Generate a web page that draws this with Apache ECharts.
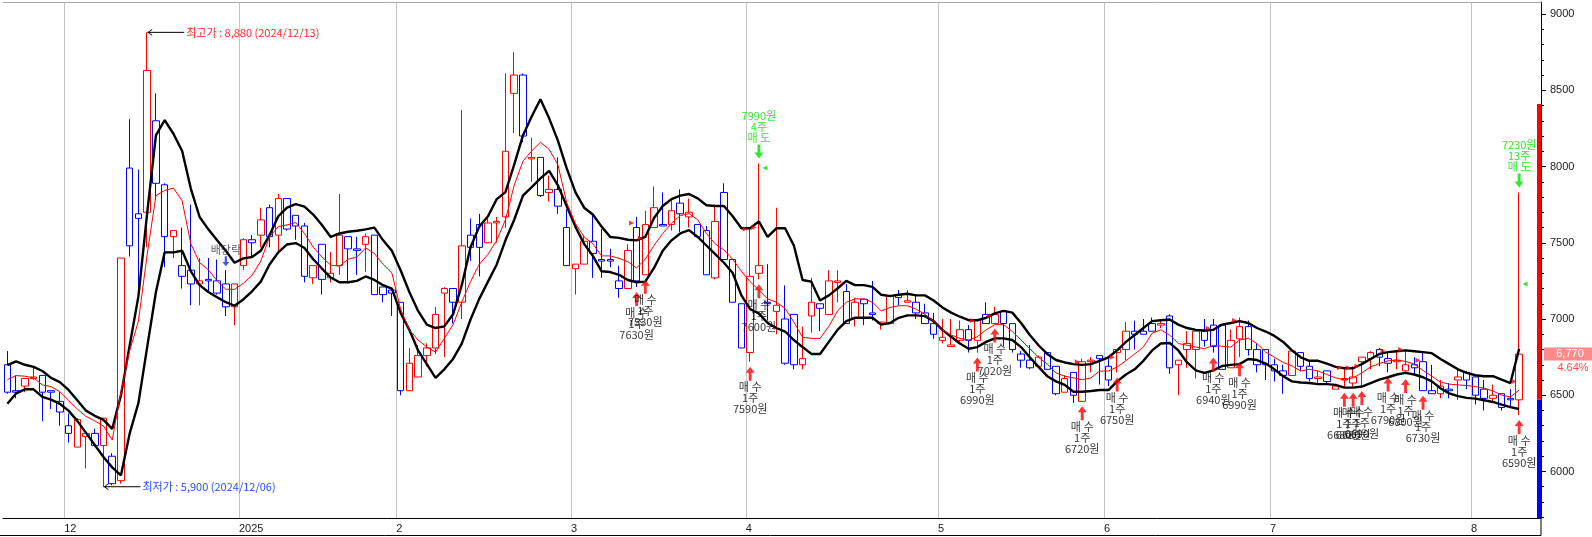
<!DOCTYPE html>
<html><head><meta charset="utf-8">
<script src="https://cdn.jsdelivr.net/npm/echarts@6/dist/echarts.min.js"></script>
<style>html,body{margin:0;padding:0;background:#fff;overflow:hidden}#c{width:1592px;height:537px}</style>
</head><body><div id="c"></div>
<script>
// ---------------- data ----------------
const dates = [
'2024-11-21','2024-11-22','2024-11-25','2024-11-26','2024-11-27','2024-11-28','2024-11-29',
'2024-12-02','2024-12-03','2024-12-04','2024-12-05','2024-12-06','2024-12-09','2024-12-10','2024-12-11','2024-12-12','2024-12-13','2024-12-16','2024-12-17','2024-12-18','2024-12-19','2024-12-20','2024-12-23','2024-12-24','2024-12-26','2024-12-27','2024-12-30',
'2025-01-02','2025-01-03','2025-01-06','2025-01-07','2025-01-08','2025-01-09','2025-01-10','2025-01-13','2025-01-14','2025-01-15','2025-01-16','2025-01-17','2025-01-20','2025-01-21','2025-01-22','2025-01-23','2025-01-24','2025-01-31',
'2025-02-03','2025-02-04','2025-02-05','2025-02-06','2025-02-07','2025-02-10','2025-02-11','2025-02-12','2025-02-13','2025-02-14','2025-02-17','2025-02-18','2025-02-19','2025-02-20','2025-02-21','2025-02-24','2025-02-25','2025-02-26','2025-02-27','2025-02-28',
'2025-03-04','2025-03-05','2025-03-06','2025-03-07','2025-03-10','2025-03-11','2025-03-12','2025-03-13','2025-03-14','2025-03-17','2025-03-18','2025-03-19','2025-03-20','2025-03-21','2025-03-24','2025-03-25','2025-03-26','2025-03-27','2025-03-28','2025-03-31',
'2025-04-01','2025-04-02','2025-04-03','2025-04-04','2025-04-07','2025-04-08','2025-04-09','2025-04-10','2025-04-11','2025-04-14','2025-04-15','2025-04-16','2025-04-17','2025-04-18','2025-04-21','2025-04-22','2025-04-23','2025-04-24','2025-04-25','2025-04-28','2025-04-29','2025-04-30',
'2025-05-02','2025-05-07','2025-05-08','2025-05-09','2025-05-12','2025-05-13','2025-05-14','2025-05-15','2025-05-16','2025-05-19','2025-05-20','2025-05-21','2025-05-22','2025-05-23','2025-05-26','2025-05-27','2025-05-28','2025-05-29','2025-05-30',
'2025-06-02','2025-06-04','2025-06-05','2025-06-09','2025-06-10','2025-06-11','2025-06-12','2025-06-13','2025-06-16','2025-06-17','2025-06-18','2025-06-19','2025-06-20','2025-06-23','2025-06-24','2025-06-25','2025-06-26','2025-06-27','2025-06-30',
'2025-07-01','2025-07-02','2025-07-03','2025-07-04','2025-07-07','2025-07-08','2025-07-09','2025-07-10','2025-07-11','2025-07-14','2025-07-15','2025-07-16','2025-07-17','2025-07-18','2025-07-21','2025-07-22','2025-07-23','2025-07-24','2025-07-25','2025-07-28','2025-07-29','2025-07-30','2025-07-31',
'2025-08-01','2025-08-04','2025-08-05','2025-08-06','2025-08-07','2025-08-08'];
const padDates = ['2025-08-11','2025-08-12'];

const opens = [6700,6530,6560,6610,6630,6530,6460,6300,6160,6230,
6250,6170,6100,5940,7990,7690,7700,8300,7880,7540,
7350,7320,7230,7260,7250,7230,7080,7350,7520,7550,
7730,7550,7790,7680,7610,7270,7490,7270,7350,7540,
7460,7490,7550,7210,7190,7110,6530,6620,6760,6810,
7170,7200,7110,7550,7620,7500,7630,7670,8480,8600,
8050,8060,7830,7850,7600,7330,7360,7510,7390,7390,
7250,7200,7600,7290,7600,7620,7620,7760,7670,7620,
7580,7270,7830,7390,7100,6780,7300,7110,7050,7000,
7030,6700,7020,7100,7030,7240,7180,7010,7130,7040,
6970,6970,7160,7110,7110,7040,6970,6860,6820,6860,
6930,6860,7030,6970,7050,6970,6770,6730,6690,6780,
6690,6520,6650,6460,6720,6760,6690,6780,6800,6920,
6920,6970,6960,7020,6700,6800,6800,6920,6960,6960,
6680,6870,6950,6800,6800,6700,6660,6630,6780,6690,
6610,6660,6540,6600,6580,6720,6740,6800,6740,6720,
6660,6700,6720,6530,6510,6540,6600,6650,6620,6540,
6480,6510,6480,6470];
const closes = [6520,6520,6610,6620,6520,6520,6390,6250,6340,6250,
6170,6350,5920,7400,7480,7660,8630,7890,7540,7580,
7280,7230,7250,7250,7170,7080,7230,7520,7500,7650,
7540,7790,7590,7610,7280,7350,7260,7300,7550,7460,
7450,7540,7160,7160,7170,6530,6710,6760,6810,7030,
7200,7110,7480,7470,7470,7630,7640,8100,8600,8200,
8060,7810,7850,7740,7350,7360,7510,7430,7380,7380,
7200,7450,7250,7620,7730,7610,7710,7690,7700,7540,
7290,7640,7390,7110,6810,7280,7350,7100,7090,6710,
6700,6740,7110,7070,7250,7250,6970,7110,7100,7030,
6980,7150,7140,7120,7040,6970,6900,6880,6830,6930,
6860,6990,6970,7030,6970,6800,6730,6680,6750,6670,
6510,6610,6500,6720,6730,6740,6600,6800,6920,6900,
6900,6920,6970,6680,6730,6840,6920,6860,6820,6670,
6860,6950,6800,6700,6700,6660,6630,6790,6690,6610,
6620,6590,6560,6610,6620,6750,6780,6750,6710,6730,
6700,6680,6530,6510,6560,6530,6620,6600,6500,6480,
6500,6420,6470,6770];
const lows = [6510,6480,6520,6600,6330,6410,6300,6190,6160,6020,
6170,5900,5910,5920,7410,7160,7470,7780,7340,7400,
7200,7090,7090,7180,7160,7020,6960,7320,7410,7470,
7470,7440,7580,7520,7240,7230,7160,7240,7290,7250,
7290,7310,7160,7110,7020,6500,6530,6620,6690,6770,
6750,6970,7000,7380,7280,7500,7500,7600,8220,8160,
7900,7800,7770,7690,7350,7160,7360,7270,7270,7340,
7140,7200,7210,7290,7600,7610,7580,7570,7600,7540,
7290,7260,7390,7110,6810,6720,7260,6990,6900,6700,
6670,6670,6910,6920,7030,7110,6970,6950,6960,6990,
6930,6970,7090,7110,7000,6970,6870,6840,6820,6840,
6780,6780,6970,6970,6820,6780,6680,6670,6690,6670,
6500,6520,6450,6460,6650,6570,6560,6650,6730,6800,
6900,6920,6940,6640,6500,6680,6610,6820,6780,6670,
6680,6750,6760,6650,6600,6590,6510,6630,6660,6590,
6570,6570,6540,6550,6550,6560,6670,6690,6650,6670,
6640,6640,6530,6510,6480,6480,6470,6540,6440,6400,
6460,6400,6430,6370];
const highs = [6790,6630,6610,6690,6630,6530,6520,6380,6350,6250,
6280,6350,6120,7400,8310,7980,8880,8480,7890,7580,
7600,7750,7400,7400,7390,7320,7230,7530,7550,7730,
7750,7820,7790,7680,7630,7350,7490,7440,7820,7540,
7540,7560,7550,7210,7190,7110,6810,6830,6840,7080,
7210,7200,8370,7660,7690,7670,7670,8610,8750,8610,
8190,8060,7940,8060,7720,7360,7550,7680,7590,7460,
7350,7490,7670,7710,7870,7830,7780,7850,7790,7620,
7610,7750,7890,7390,7100,7600,8020,7360,7730,7220,
7030,6950,7270,7100,7320,7320,7230,7140,7130,7250,
6980,7160,7190,7190,7160,7100,7040,7000,7000,6990,
6960,7000,7110,7080,7050,6970,6790,6830,6760,6780,
6690,6630,6650,6740,6750,6760,6740,6800,6980,6990,
7000,7010,6990,7030,6730,6920,6920,7000,7000,6960,
6930,7010,6990,6840,6800,6740,6700,6800,6780,6730,
6660,6660,6570,6680,6690,6750,6790,6810,6780,6790,
6800,6750,6780,6700,6600,6580,6670,6660,6620,6600,
6570,6510,6540,7830];

const upperBand = [6697,6722,6700,6686,6659,6614,6586,6535,6467,6399,6365,6338,6280,
6501,6828,7150,7696,8204,8305,8215,8102,7854,7669,7588,7516,7448,7369,7398,7407,7448,7550,7674,7730,7753,7737,7685,7617,7538,7561,7572,7579,7588,7599,7516,7448,7320,
7177,7053,6963,6941,6952,7031,7222,7471,7606,7674,7786,7832,8012,8204,8328,8441,8316,8170,7989,7832,7730,7685,7606,7538,7532,7520,7516,7538,7662,7741,7786,7809,7820,7791,7746,7741,7741,7674,7595,7595,7640,7538,7595,
7595,7482,7256,7245,7121,7155,7200,7250,7222,7222,7211,7159,7150,7159,7166,7155,7155,7121,7076,7042,7015,6992,6992,7008,7037,7053,7042,6974,6895,6828,6771,6731,6715,6704,6699,6704,6726,6749,6794,6850,6895,6941,6986,
6992,6997,6963,6941,6929,6925,6929,6963,6974,6986,6974,6941,6918,6889,6850,6794,6749,6726,6726,6708,6686,6677,6677,6704,6738,6771,6783,6789,6794,6789,6783,6776,6738,6704,6670,6647,6631,6625,6625,6602,6580,6805];
const middleLine = [6602,6629,6625,6614,6568,6557,6523,6467,6410,6361,6332,6298,6207,
6523,6794,6986,7425,7809,7843,7859,7775,7493,7369,7324,7250,7195,7195,7234,7286,7380,7538,7606,7617,7633,7561,7471,7407,7353,7347,7392,7407,7466,7430,7358,7302,7065,
6929,6862,6816,6783,6873,6963,7110,7245,7358,7425,7516,7651,7877,8035,8102,8159,8113,8012,7764,7628,7538,7493,7414,7414,7398,7376,7335,7392,7482,7561,7628,7678,7692,7651,7561,7493,7453,7392,7313,7245,7189,7132,7110,
7070,6980,6880,6873,6873,6952,7053,7110,7132,7132,7110,7053,7076,7087,7087,7065,7031,6986,6929,6895,6873,6862,6884,6929,6963,6963,6918,6862,6805,6749,6704,6647,6625,6614,6602,6614,6659,6659,6686,6726,6771,6816,6907,
6929,6895,6839,6828,6816,6805,6828,6821,6816,6862,6873,6839,6783,6749,6715,6693,6659,6670,6659,6636,6614,6602,6614,6647,6686,6708,6726,6731,6722,6704,6663,6625,6586,6573,6568,6564,6557,6546,6528,6501,6489,6534];
const lowerBand = [6444,6512,6539,6539,6489,6471,6444,6399,6332,6253,6174,6095,6027,
5975,6250,6450,6816,7177,7437,7437,7448,7313,7222,7177,7143,7110,7087,7128,7182,7245,7358,7437,7489,7498,7466,7392,7331,7272,7241,7241,7250,7279,7256,7222,7200,7040,
6929,6794,6704,6614,6670,6738,6839,6997,7132,7245,7358,7516,7651,7809,7865,7922,7971,7877,7741,7606,7493,7414,7313,7308,7290,7256,7241,7245,7335,7448,7516,7561,7583,7538,7482,7425,7369,7302,7155,7065,7037,6974,6941,
6918,6862,6816,6771,6771,6850,6929,6986,7008,7008,7008,6963,6974,7008,7024,7024,7019,6986,6929,6884,6839,6805,6816,6850,6873,6873,6862,6816,6749,6686,6625,6591,6568,6523,6523,6528,6534,6534,6591,6636,6670,6726,6794,
6839,6843,6794,6715,6663,6647,6663,6692,6699,6704,6738,6731,6708,6670,6625,6591,6584,6580,6573,6573,6568,6550,6550,6557,6580,6602,6618,6636,6647,6636,6618,6591,6546,6512,6494,6483,6478,6467,6456,6438,6422,6410];

const buyIdx   = [72,73,85,86,111,113,123,127,138,141,153,154,155,158,160,162,173];
const buyPrice = [7630,7530,7590,7600,6990,7020,6720,6750,6940,6990,6680,6680,6690,6790,6800,6730,6590];
const buyQty   = ['1주','1주','1주','1주','1주','1주','1주','1주','1주','1주','1주','1주','1주','1주','1주','1주','1주'];
const sellIdx   = [86,173];
const sellPrice = [7990,7230];
const sellQty   = ['4주','13주'];
const dividendIdx = 25;
const highIdx = 16, highValue = 8880, highText = '최고가 : 8,880 (2024/12/13)';
const lowIdx = 11,  lowValue = 5900,  lowText = '최저가 : 5,900 (2024/12/06)';
const prevClose = 6470, upperLimit = 8410, lowerLimit = 4530;
const lastPriceText = '6,770', changeText = '4.64%';
const yMajorTicks = [6000,6500,7000,7500,8000,8500,9000];
const yMinorTicks = [5700,5800,5900,6100,6200,6300,6400,6600,6700,6800,6900,7100,7200,7300,7400,7600,7700,7800,7900,8100,8200,8300,8400,8600,8700,8800,8900,9000];
const yMin = 5695, yMax = 9079;

// ---------------- chart ----------------
const KR = "'Noto Sans CJK KR', 'Liberation Sans', sans-serif";
const chart = echarts.init(document.getElementById('c'), null, {renderer: 'canvas'});
const N = dates.length;
const cats = dates.concat(padDates);
const monthStart = new Set();
for (let k = 1; k < N; k++) if (dates[k].slice(0, 7) !== dates[k - 1].slice(0, 7)) monthStart.add(k);
const boundaryKeys = [], boundaryLabels = [];
for (let k = 0; k <= cats.length; k++) {
  boundaryKeys.push('b' + k);
  if (monthStart.has(k)) {
    const m = +dates[k].slice(5, 7);
    boundaryLabels.push(m === 1 ? dates[k].slice(0, 4) : String(m));
  } else boundaryLabels.push('');
}
const candleData = dates.map((d, k) => [opens[k], closes[k], lows[k], highs[k]]);
const upArrow = 'path://M5,0 L10,6 L6.6,6 L6.6,14 L3.4,14 L3.4,6 L0,6 Z';
const downArrow = 'path://M5,14 L10,8 L6.6,8 L6.6,0 L3.4,0 L3.4,8 L0,8 Z';

const option = {
  animation: false,
  backgroundColor: '#fff',
  grid: {left: -2, right: 51, top: 2, bottom: 19, containLabel: false},
  xAxis: [
    {type: 'category', data: cats, boundaryGap: true, position: 'bottom',
     axisLine: {onZero: false, lineStyle: {color: '#000', width: 1}},
     axisTick: {show: false}, axisLabel: {show: false},
     splitLine: {show: true, interval: (idx) => monthStart.has(idx), lineStyle: {color: '#c4c4c4', width: 1}}},
    {type: 'category', data: boundaryKeys, boundaryGap: false, position: 'bottom',
     axisLine: {show: false}, axisTick: {show: false}, splitLine: {show: false},
     axisLabel: {interval: 0, margin: 5, align: 'left', color: '#1a1a1a', fontSize: 11, fontFamily: 'Liberation Sans',
       formatter: (v) => boundaryLabels[+v.slice(1)]}},
    {type: 'category', data: cats, boundaryGap: true, position: 'top',
     axisLine: {onZero: false, lineStyle: {color: '#a8a8a8', width: 1}},
     axisTick: {show: false}, axisLabel: {show: false}, splitLine: {show: false}}
  ],
  yAxis: [
    {type: 'value', position: 'right', min: yMin, max: yMax, scale: true,
     axisLine: {show: true, lineStyle: {color: '#000', width: 1}},
     axisTick: {show: true, inside: false, length: 5, customValues: yMajorTicks, lineStyle: {color: '#000'}},
     axisLabel: {show: true, margin: 9, customValues: yMajorTicks, color: '#1a1a1a', fontSize: 11, fontFamily: 'Liberation Sans',
       formatter: (v) => String(v)},
     splitLine: {show: false}},
    {type: 'value', position: 'right', min: yMin, max: yMax, scale: true,
     axisLine: {show: false},
     axisTick: {show: true, inside: false, length: 3, customValues: yMinorTicks, lineStyle: {color: '#000'}},
     axisLabel: {show: false}, splitLine: {show: false}}
  ],
  series: [
    {name: 'price', type: 'candlestick', xAxisIndex: 0, yAxisIndex: 0, data: candleData, barWidth: 7, z: 2,
     itemStyle: {color: '#ffffff', color0: '#ffffff', borderColor: '#ff0000', borderColor0: '#0000ff', borderWidth: 1},
     silent: true},
    {name: 'upper', type: 'line', data: upperBand, showSymbol: false, symbol: 'none', z: 3, silent: true,
     lineStyle: {color: '#000', width: 2.4}},
    {name: 'lower', type: 'line', data: lowerBand, showSymbol: false, symbol: 'none', z: 3, silent: true,
     lineStyle: {color: '#000', width: 2.4}},
    {name: 'middle', type: 'line', data: middleLine, showSymbol: false, symbol: 'none', z: 4, silent: true,
     lineStyle: {color: '#ff0000', width: 1}},
    {name: 'limitBar', type: 'custom', xAxisIndex: 0, yAxisIndex: 0, data: [[0, upperLimit, prevClose, lowerLimit]], z: 5, silent: true, clip: false,
     renderItem: function (params, api) {
       const cs = params.coordSys;
       const x = cs.x + cs.width - 4;
       const yTop = api.coord([0, api.value(1)])[1];
       const yMid = api.coord([0, api.value(2)])[1];
       const yBot = Math.min(cs.y + cs.height, api.coord([0, api.value(3)])[1]);
       return {type: 'group', children: [
         {type: 'rect', shape: {x: x, y: yTop, width: 4, height: yMid - yTop}, style: {fill: '#ff0000'}},
         {type: 'rect', shape: {x: x, y: yMid, width: 4, height: yBot - yMid}, style: {fill: '#0000ff'}}
       ]};
     }},
    {name: 'buy', type: 'scatter', xAxisIndex: 0, yAxisIndex: 0, z: 6, silent: true,
     symbol: upArrow, symbolSize: [9, 14], symbolOffset: [0, 12], itemStyle: {color: '#ff0000'},
     data: buyIdx.map((k, j) => ({value: [k, lows[k]], label: {formatter: '매 수\n' + buyQty[j] + '\n' + buyPrice[j] + '원'}})),
     label: {show: true, position: 'bottom', distance: 1, color: '#000', fontSize: 11, lineHeight: 11, fontFamily: KR, align: 'center'}},
    {name: 'sell', type: 'scatter', xAxisIndex: 0, yAxisIndex: 0, z: 6, silent: true,
     symbol: downArrow, symbolSize: [9, 14], symbolOffset: [0, -12], itemStyle: {color: '#00dd00'},
     data: sellIdx.map((k, j) => ({value: [k, highs[k]], label: {formatter: sellPrice[j] + '원\n' + sellQty[j] + '\n매 도'}})),
     label: {show: true, position: 'top', distance: 1, color: '#00dd00', fontSize: 11, lineHeight: 11, fontFamily: KR, align: 'center'}},
    {name: 'buyFlag', type: 'scatter', xAxisIndex: 0, yAxisIndex: 0, z: 6, silent: true,
     symbol: 'triangle', symbolSize: 5, symbolRotate: -90, symbolOffset: [-5, 0], itemStyle: {color: '#ff0000'},
     data: buyIdx.map((k, j) => [k, buyPrice[j]])},
    {name: 'sellFlag', type: 'scatter', xAxisIndex: 0, yAxisIndex: 0, z: 6, silent: true,
     symbol: 'triangle', symbolSize: 5, symbolRotate: 90, symbolOffset: [6, 0], itemStyle: {color: '#00dd00'},
     data: sellIdx.map((k, j) => [k, sellPrice[j]])},
    {name: 'dividend', type: 'scatter', xAxisIndex: 0, yAxisIndex: 0, z: 6, silent: true,
     symbol: downArrow, symbolSize: [7, 10], symbolOffset: [0, -9], itemStyle: {color: '#1030e0'},
     data: [[dividendIdx, highs[dividendIdx]]],
     label: {show: true, position: 'top', distance: 1, formatter: '배당락', color: '#303040', fontSize: 11, fontFamily: KR}}
  ]
};
chart.setOption(option);

// annotations positioned through the chart's own scales
const px = (i, v) => chart.convertToPixel({seriesIndex: 0}, [i, v]);
const ph = px(highIdx, highValue), pl = px(lowIdx, lowValue);
const lastY = chart.convertToPixel({seriesIndex: 0}, [N - 1, closes[N - 1]])[1];
const gridRight = px(cats.length - 1, yMin)[0] + (px(1, yMin)[0] - px(0, yMin)[0]) / 2;
const gridBottom = px(0, yMin)[1];
function pointer(p, color, text) {
  return [
    {type: 'line', shape: {x1: p[0], y1: p[1], x2: p[0] + 37, y2: p[1]}, style: {stroke: '#000', lineWidth: 1}, z: 10},
    {type: 'polyline', shape: {points: [[p[0] + 5, p[1] - 3], [p[0] + 1, p[1]], [p[0] + 5, p[1] + 3]]}, style: {stroke: '#000', lineWidth: 1, fill: null}, z: 10},
    {type: 'text', x: p[0] + 39, y: p[1], style: {text: text, fill: color, font: '11px ' + KR, verticalAlign: 'middle', align: 'left'}, z: 10}
  ];
}
chart.setOption({graphic: [].concat(
  pointer(ph, '#ff2a2a', highText),
  pointer(pl, '#2a4cff', lowText),
  [
    {type: 'rect', shape: {x: gridRight + 3, y: lastY - 6.5, width: 1592 - gridRight - 3, height: 13}, style: {fill: '#ff8a8a'}, z: 10},
    {type: 'text', x: (gridRight + 3 + 1592) / 2 + 2, y: lastY, style: {text: lastPriceText, fill: '#fff', font: '11px Liberation Sans', align: 'center', verticalAlign: 'middle'}, z: 11},
    {type: 'text', x: (gridRight + 3 + 1592) / 2 + 5, y: lastY + 14, style: {text: changeText, fill: '#ff4a4a', font: '11px Liberation Sans', align: 'center', verticalAlign: 'middle'}, z: 11},
    {type: 'line', shape: {x1: 0, y1: gridBottom + 17.5, x2: gridRight, y2: gridBottom + 17.5}, style: {stroke: '#000', lineWidth: 1}, z: 10},
    {type: 'line', shape: {x1: gridRight, y1: gridBottom, x2: gridRight, y2: gridBottom + 17.5}, style: {stroke: '#000', lineWidth: 1}, z: 10}
  ])});
</script>
</body></html>
